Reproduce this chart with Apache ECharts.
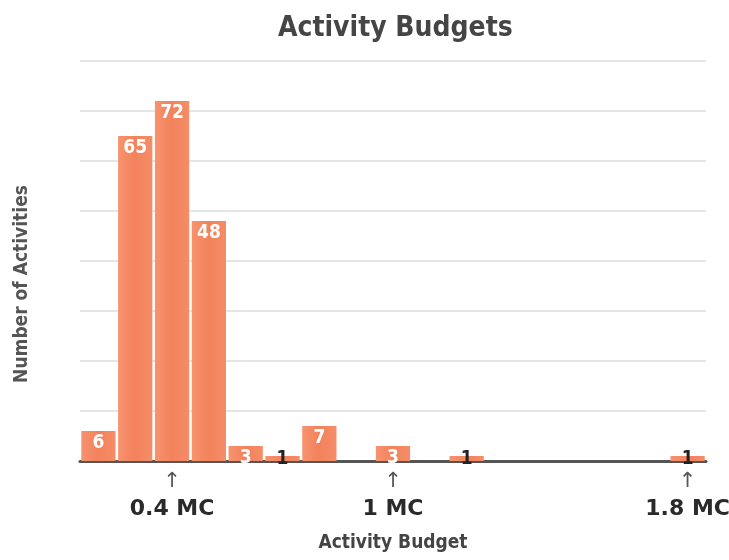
<!DOCTYPE html>
<html>
<head>
<meta charset="utf-8">
<script src="https://cdn.jsdelivr.net/npm/echarts@6/dist/echarts.min.js"></script>
<style>html,body{margin:0;padding:0;background:#fff}#c{width:729px;height:560px}</style>
</head>
<body>
<div id="c"></div>
<script>
// bin centres in MC (millions), width 0.1
const categories = ['0.2','0.3','0.4','0.5','0.6','0.7','0.8','0.9','1','1.1','1.2','1.3','1.4','1.5','1.6','1.7','1.8'];
const counts = [6, 65, 72, 48, 3, 1, 7, 0, 3, 0, 1, 0, 0, 0, 0, 0, 1];
const tickLabels = {'0.4': '0.4 MC', '1': '1 MC', '1.8': '1.8 MC'};

const sansFont = "'DejaVu Sans Condensed','Liberation Sans Narrow','DejaVu Sans',sans-serif";

const seriesData = counts.map(v => {
  if (v === 0) return {value: v, label: {show: false}};
  if (v === 1) return {value: v, label: {show: true, position: 'top', distance: -13, color: '#222'}};
  return {value: v};
});

const chart = echarts.init(document.getElementById('c'));
chart.setOption({
  animation: false,
  title: {
    text: 'Activity Budgets', left: 273, top: 10,
    textStyle: {fontFamily: sansFont, fontWeight: 'bold', fontSize: 28, color: '#454545'}
  },
  grid: {left: 80, right: 23, top: 61, bottom: 99, outerBoundsMode: 'none', containLabel: false},
  xAxis: {
    type: 'category', data: categories,
    name: 'Activity Budget', nameLocation: 'middle', nameGap: 73,
    nameTextStyle: {fontFamily: sansFont, fontWeight: 'bold', fontSize: 19, color: '#444'},
    axisLine: {lineStyle: {color: '#555', width: 3}},
    axisTick: {show: false},
    axisLabel: {
      interval: 0, margin: 9, hideOverlap: false,
      formatter: v => tickLabels[v] ? '{a|↑}\n{b|' + tickLabels[v] + '}' : '',
      rich: {
        a: {fontSize: 21, color: '#555', lineHeight: 24, fontFamily: 'DejaVu Sans'},
        b: {fontSize: 22, fontWeight: 'bold', color: '#2a2a2a', fontFamily: "'DejaVu Sans',Verdana,sans-serif", lineHeight: 30}
      }
    }
  },
  yAxis: {
    type: 'value', min: 0, max: 80, interval: 10,
    name: 'Number of Activities', nameLocation: 'middle', nameGap: 48,
    nameTextStyle: {fontFamily: sansFont, fontWeight: 'bold', fontSize: 19, color: '#555', padding: [0, 46, 0, 0]},
    axisLabel: {show: false}, axisLine: {show: false}, axisTick: {show: false},
    splitLine: {lineStyle: {color: '#dcdcdc', width: 1.5}}
  },
  series: [{
    type: 'bar', data: seriesData, barCategoryGap: '7%',
    itemStyle: {
      color: new echarts.graphic.LinearGradient(0, 0, 1, 0, [
        {offset: 0, color: '#F7936E'},
        {offset: 0.5, color: '#F2825C'},
        {offset: 1, color: '#F58D68'}
      ])
    },
    label: {
      show: true, position: 'insideTop', distance: 3,
      color: '#fff', fontWeight: 'bold', fontSize: 19, fontFamily: sansFont
    }
  }]
});
</script>
</body>
</html>
